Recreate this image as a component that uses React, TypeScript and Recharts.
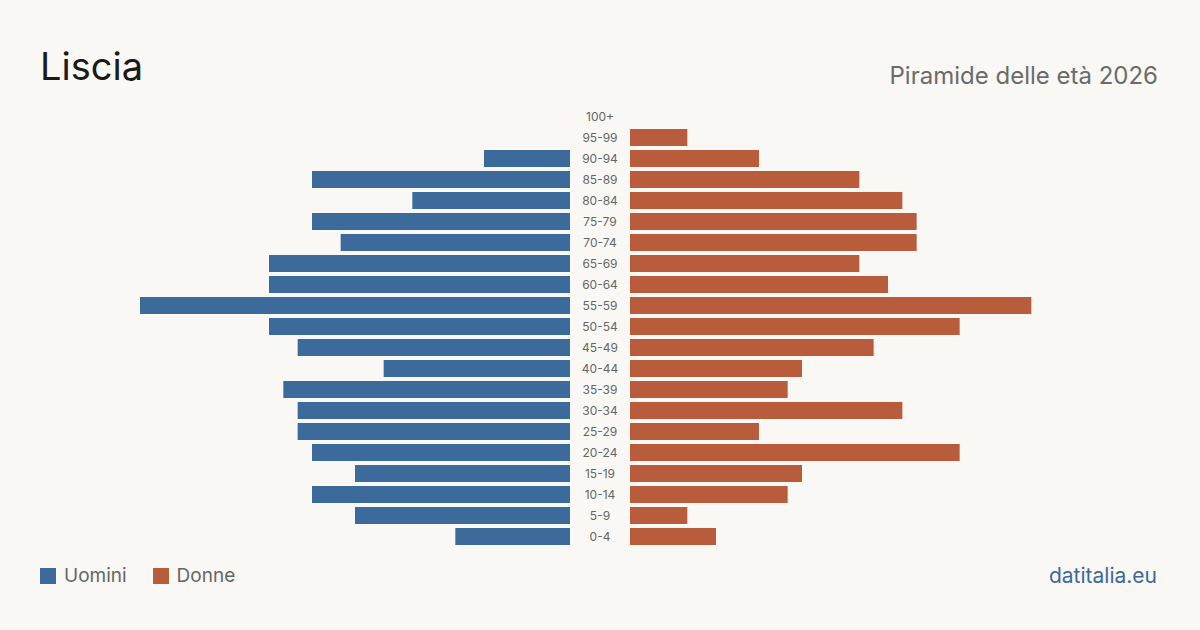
import { BarChart, Bar, XAxis, YAxis } from 'recharts'

const AGE_GROUPS = ['100+', '95-99', '90-94', '85-89', '80-84', '75-79', '70-74', '65-69', '60-64', '55-59', '50-54', '45-49', '40-44', '35-39', '30-34', '25-29', '20-24', '15-19', '10-14', '5-9', '0-4']
const MALES = [0, 0, 6, 18, 11, 18, 16, 21, 21, 30, 21, 19, 13, 20, 19, 19, 18, 15, 18, 15, 8]
const FEMALES = [0, 4, 9, 16, 19, 20, 20, 16, 18, 28, 23, 17, 12, 11, 19, 9, 23, 12, 11, 4, 6]

const BLUE = '#3b6a9b'
const RED = '#b95c3c'
const FONT = 'Inter, "Noto Sans", sans-serif'
const MAX = 30

const rows = AGE_GROUPS.map((age, i) => ({ age, m: MALES[i], f: FEMALES[i] }))

// age labels sit centred in the 60px gap between the two halves
const CenterTick = (props: any) => {
  const { y, payload } = props
  return (
    <text x={30} y={y} dy={4} textAnchor="middle" fontSize={12} fill="#666" fontFamily={FONT}>
      {payload.value}
    </text>
  )
}

export default function App() {
  const top = 105.5
  const h = 441
  return (
    <div style={{ position: 'relative', width: 1200, height: 630, background: '#f9f8f4', fontFamily: FONT, overflow: 'hidden' }}>
      <style>{'body{margin:0}'}</style>
      <div style={{ position: 'absolute', left: 40, top: 41, fontSize: 38, color: '#1a1a1a', lineHeight: '50px' }}>Liscia</div>
      <div style={{ position: 'absolute', right: 42, top: 60, fontSize: 24, color: '#6b6b6b', lineHeight: '32px' }}>Piramide delle età 2026</div>

      <div style={{ position: 'absolute', left: 140, top }}>
        <BarChart width={430} height={h} data={rows} layout="vertical" margin={{ top: 0, right: 0, bottom: 0, left: 0 }} barCategoryGap={2}>
          <XAxis type="number" domain={[0, MAX]} reversed hide />
          <YAxis type="category" dataKey="age" hide />
          <Bar dataKey="m" fill={BLUE} barSize={17} isAnimationActive={false} />
        </BarChart>
      </div>

      <div style={{ position: 'absolute', left: 570, top }}>
        <BarChart width={490} height={h} data={rows} layout="vertical" margin={{ top: 0, right: 0, bottom: 0, left: 0 }} barCategoryGap={2}>
          <XAxis type="number" domain={[0, MAX]} hide />
          <YAxis type="category" dataKey="age" width={60} axisLine={false} tickLine={false} tick={<CenterTick />} interval={0} />
          <Bar dataKey="f" fill={RED} barSize={17} isAnimationActive={false} />
        </BarChart>
      </div>

      <div style={{ position: 'absolute', left: 40, top: 564, display: 'flex', alignItems: 'center', fontSize: 19, color: '#666', lineHeight: '24px' }}>
        <span style={{ width: 16, height: 16, background: BLUE, display: 'inline-block', marginRight: 8 }} />
        <span style={{ marginRight: 26 }}>Uomini</span>
        <span style={{ width: 16, height: 16, background: RED, display: 'inline-block', marginRight: 8 }} />
        <span>Donne</span>
      </div>
      <div style={{ position: 'absolute', right: 43, top: 562, fontSize: 21, color: BLUE, lineHeight: '28px' }}>datitalia.eu</div>
    </div>
  )
}
